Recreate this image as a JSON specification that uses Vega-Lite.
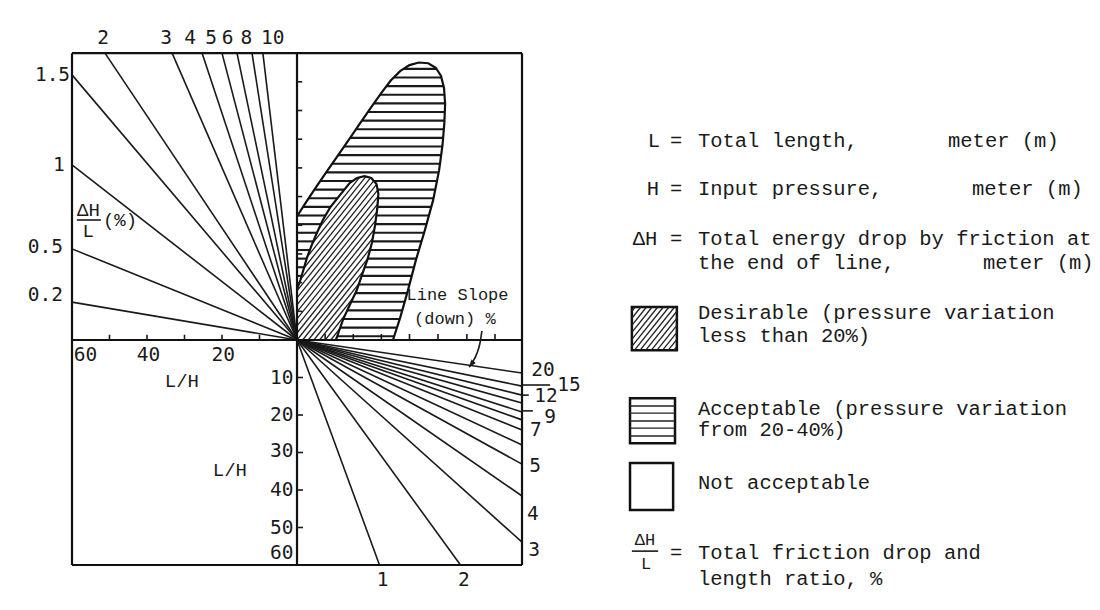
{
  "$schema": "https://vega.github.io/schema/vega-lite/v6.json",
  "width": 1100,
  "height": 610,
  "autosize": {"type": "fit", "contains": "padding"},
  "padding": 0,
  "background": "white",
  "config": {"view": {"stroke": null}},
  "encoding": {
    "x": {"field": "x", "type": "quantitative", "scale": {"domain": [-79.2, 214.13], "nice": false, "zero": false}, "axis": null},
    "y": {"field": "y", "type": "quantitative", "scale": {"domain": [-72, 90.67], "nice": false, "zero": false}, "axis": null}
  },
  "datasets": {
    "hatchD": [
      {"x": 0, "y": 24.375, "x2": 16.1, "y2": 44.5},
      {"x": 0, "y": 22.5, "x2": 17.6, "y2": 44.5},
      {"x": 0, "y": 20.625, "x2": 19.1, "y2": 44.5},
      {"x": 0, "y": 18.75, "x2": 20.6, "y2": 44.5},
      {"x": 0, "y": 16.875, "x2": 22.1, "y2": 44.5},
      {"x": 0, "y": 15.0, "x2": 22.5, "y2": 43.125},
      {"x": 0, "y": 13.125, "x2": 22.5, "y2": 41.25},
      {"x": 0, "y": 11.25, "x2": 22.5, "y2": 39.375},
      {"x": 0, "y": 9.375, "x2": 22.5, "y2": 37.5},
      {"x": 0, "y": 7.5, "x2": 22.5, "y2": 35.625},
      {"x": 0, "y": 5.625, "x2": 22.5, "y2": 33.75},
      {"x": 0, "y": 3.75, "x2": 22.5, "y2": 31.875},
      {"x": 0, "y": 1.875, "x2": 22.5, "y2": 30.0},
      {"x": 0, "y": 0, "x2": 22.5, "y2": 28.125},
      {"x": 1.5, "y": 0, "x2": 22.5, "y2": 26.25},
      {"x": 3.0, "y": 0, "x2": 22.5, "y2": 24.375},
      {"x": 4.5, "y": 0, "x2": 22.5, "y2": 22.5},
      {"x": 6.0, "y": 0, "x2": 22.5, "y2": 20.625},
      {"x": 7.5, "y": 0, "x2": 22.5, "y2": 18.75},
      {"x": 9.0, "y": 0, "x2": 22.5, "y2": 16.875},
      {"x": 10.5, "y": 0, "x2": 22.5, "y2": 15.0}
    ],
    "maskSmall": [
      {"i": 0, "x": 0, "y": 13.5}, {"i": 1, "x": 0.9, "y": 16.0}, {"i": 2, "x": 1.8, "y": 19.0},
      {"i": 3, "x": 2.7, "y": 22.1}, {"i": 4, "x": 4.0, "y": 25.5}, {"i": 5, "x": 5.4, "y": 28.8},
      {"i": 6, "x": 6.9, "y": 32.0}, {"i": 7, "x": 8.8, "y": 35.3}, {"i": 8, "x": 11.5, "y": 38.7},
      {"i": 9, "x": 14.1, "y": 41.9}, {"i": 10, "x": 16.0, "y": 43.2}, {"i": 11, "x": 18.0, "y": 43.7},
      {"i": 12, "x": 19.8, "y": 43.2}, {"i": 13, "x": 21.2, "y": 41.6}, {"i": 14, "x": 21.7, "y": 39.0},
      {"i": 15, "x": 21.4, "y": 35.0}, {"i": 16, "x": 20.8, "y": 30.5}, {"i": 17, "x": 20.0, "y": 26.0},
      {"i": 18, "x": 18.8, "y": 21.5}, {"i": 19, "x": 17.3, "y": 17.3}, {"i": 20, "x": 15.9, "y": 13.2},
      {"i": 21, "x": 14.0, "y": 9.2}, {"i": 22, "x": 12.3, "y": 5.5}, {"i": 23, "x": 11.2, "y": 2.4},
      {"i": 24, "x": 10.6, "y": 0.6}, {"i": 25, "x": 10.3, "y": 0},
      {"i": 26, "x": 23, "y": 0}, {"i": 27, "x": 23, "y": 45}, {"i": 28, "x": 0, "y": 45}
    ],
    "hatchH": [
      {"x": 10.65, "x2": 40.5, "y": 1.0}, {"x": 11.52, "x2": 40.5, "y": 3.3}, {"x": 12.35, "x2": 40.5, "y": 5.6},
      {"x": 13.4, "x2": 40.5, "y": 7.9}, {"x": 14.5, "x2": 40.5, "y": 10.2}, {"x": 15.6, "x2": 40.5, "y": 12.5},
      {"x": 0, "x2": 0.47, "y": 14.8}, {"x": 16.45, "x2": 40.5, "y": 14.8},
      {"x": 0, "x2": 1.23, "y": 17.1}, {"x": 17.23, "x2": 40.5, "y": 17.1},
      {"x": 0, "x2": 1.92, "y": 19.4}, {"x": 18.05, "x2": 40.5, "y": 19.4},
      {"x": 0, "x2": 2.58, "y": 21.7}, {"x": 18.85, "x2": 40.5, "y": 21.7},
      {"x": 0, "x2": 3.43, "y": 24.0}, {"x": 19.47, "x2": 40.5, "y": 24.0},
      {"x": 0, "x2": 4.34, "y": 26.3}, {"x": 20.05, "x2": 40.5, "y": 26.3},
      {"x": 0, "x2": 5.3, "y": 28.6}, {"x": 20.46, "x2": 40.5, "y": 28.6},
      {"x": 0, "x2": 6.38, "y": 30.9}, {"x": 20.85, "x2": 40.5, "y": 30.9},
      {"x": 0, "x2": 7.59, "y": 33.2}, {"x": 21.16, "x2": 40.5, "y": 33.2},
      {"x": 0, "x2": 8.96, "y": 35.5}, {"x": 21.44, "x2": 40.5, "y": 35.5},
      {"x": 0, "x2": 10.79, "y": 37.8}, {"x": 21.6, "x2": 40.5, "y": 37.8},
      {"x": 0, "x2": 12.64, "y": 40.1}, {"x": 21.5, "x2": 40.5, "y": 40.1},
      {"x": 0, "x2": 14.83, "y": 42.4}, {"x": 20.5, "x2": 40.5, "y": 42.4},
      {"x": 0, "x2": 40.5, "y": 44.7}, {"x": 0, "x2": 40.5, "y": 47.0}, {"x": 0, "x2": 40.5, "y": 49.3},
      {"x": 0, "x2": 40.5, "y": 51.6}, {"x": 0, "x2": 40.5, "y": 53.9}, {"x": 0, "x2": 40.5, "y": 56.2},
      {"x": 0, "x2": 40.5, "y": 58.5}, {"x": 0, "x2": 40.5, "y": 60.8}, {"x": 0, "x2": 40.5, "y": 63.1},
      {"x": 0, "x2": 40.5, "y": 65.4}, {"x": 0, "x2": 40.5, "y": 67.7}, {"x": 0, "x2": 40.5, "y": 70.0},
      {"x": 0, "x2": 40.5, "y": 72.3}
    ],
    "maskBig": [
      {"i": 0, "x": 0, "y": 33.0}, {"i": 1, "x": 2.0, "y": 36.1}, {"i": 2, "x": 4.5, "y": 39.9},
      {"i": 3, "x": 7.5, "y": 44.3}, {"i": 4, "x": 10.7, "y": 48.9}, {"i": 5, "x": 13.8, "y": 53.4},
      {"i": 6, "x": 16.8, "y": 57.8}, {"i": 7, "x": 19.8, "y": 62.1}, {"i": 8, "x": 22.5, "y": 65.9},
      {"i": 9, "x": 25.0, "y": 69.2}, {"i": 10, "x": 27.5, "y": 71.7}, {"i": 11, "x": 30.0, "y": 73.3},
      {"i": 12, "x": 32.5, "y": 74.0}, {"i": 13, "x": 35.0, "y": 73.8}, {"i": 14, "x": 37.0, "y": 72.6},
      {"i": 15, "x": 38.4, "y": 70.4}, {"i": 16, "x": 39.2, "y": 67.2}, {"i": 17, "x": 39.5, "y": 63.0},
      {"i": 18, "x": 39.3, "y": 58.0}, {"i": 19, "x": 38.8, "y": 52.0}, {"i": 20, "x": 37.9, "y": 45.3},
      {"i": 21, "x": 36.3, "y": 37.3}, {"i": 22, "x": 34.1, "y": 29.3}, {"i": 23, "x": 31.7, "y": 21.3},
      {"i": 24, "x": 29.6, "y": 13.3}, {"i": 25, "x": 27.5, "y": 5.9}, {"i": 26, "x": 26.3, "y": 2.2},
      {"i": 27, "x": 25.6, "y": 0},
      {"i": 28, "x": 41, "y": 0}, {"i": 29, "x": 41, "y": 75.5}, {"i": 30, "x": 0, "y": 75.5}
    ],
    "frame": [
      {"x": -60, "y": 76.5, "x2": 60, "y2": 76.5},
      {"x": -60, "y": 76.5, "x2": -60, "y2": -60},
      {"x": 60, "y": 76.5, "x2": 60, "y2": -60},
      {"x": -60, "y": -60, "x2": 60, "y2": -60},
      {"x": 0, "y": 76.5, "x2": 0, "y2": -60},
      {"x": -60, "y": 0, "x2": 60, "y2": 0}
    ],
    "ticks": [
      {"x": -50, "y": 0, "x2": -50, "y2": 1.4}, {"x": -40, "y": 0, "x2": -40, "y2": 1.4},
      {"x": -30, "y": 0, "x2": -30, "y2": 1.4}, {"x": -20, "y": 0, "x2": -20, "y2": 1.4},
      {"x": -10, "y": 0, "x2": -10, "y2": 1.4},
      {"x": 0, "y": 7.65, "x2": 1.4, "y2": 7.65}, {"x": 0, "y": 15.3, "x2": 1.4, "y2": 15.3},
      {"x": 0, "y": 22.95, "x2": 1.4, "y2": 22.95}, {"x": 0, "y": 30.6, "x2": 1.4, "y2": 30.6},
      {"x": 0, "y": 38.25, "x2": 1.4, "y2": 38.25}, {"x": 0, "y": 45.9, "x2": 1.4, "y2": 45.9},
      {"x": 0, "y": 53.55, "x2": 1.4, "y2": 53.55}, {"x": 0, "y": 61.2, "x2": 1.4, "y2": 61.2},
      {"x": 0, "y": 68.85, "x2": 1.4, "y2": 68.85},
      {"x": 7.5, "y": 0, "x2": 7.5, "y2": 1.6}, {"x": 15.0, "y": 0, "x2": 15.0, "y2": 1.6},
      {"x": 22.5, "y": 0, "x2": 22.5, "y2": 1.6}, {"x": 30.0, "y": 0, "x2": 30.0, "y2": 1.6},
      {"x": 37.6, "y": 0, "x2": 37.6, "y2": 1.6}, {"x": 45.3, "y": 0, "x2": 45.3, "y2": 1.6},
      {"x": 52.8, "y": 0, "x2": 52.8, "y2": 1.6},
      {"x": 0, "y": -10, "x2": 1.6, "y2": -10}, {"x": 0, "y": -20, "x2": 1.6, "y2": -20},
      {"x": 0, "y": -30, "x2": 1.6, "y2": -30}, {"x": 0, "y": -40, "x2": 1.6, "y2": -40},
      {"x": 0, "y": -50, "x2": 1.6, "y2": -50},
      {"x": 60, "y": -12.0, "x2": 67.5, "y2": -12.0},
      {"x": 60, "y": -14.7, "x2": 61.8, "y2": -14.7},
      {"x": 60, "y": -18.9, "x2": 62.9, "y2": -18.9},
      {"x": -58.7, "y": 32.0, "x2": -52.3, "y2": 32.0},
      {"x": 89.3, "y": -56.3, "x2": 96.3, "y2": -56.3}
    ],
    "fans": [
      {"v": 0.2, "x": 0, "y": 0, "x2": -60, "y2": 10.1},
      {"v": 0.5, "x": 0, "y": 0, "x2": -60, "y2": 24.3},
      {"v": 1, "x": 0, "y": 0, "x2": -60, "y2": 46.7},
      {"v": 1.5, "x": 0, "y": 0, "x2": -60, "y2": 70.7},
      {"v": 2, "x": 0, "y": 0, "x2": -51.2, "y2": 76.5},
      {"v": 3, "x": 0, "y": 0, "x2": -33.3, "y2": 76.5},
      {"v": 4, "x": 0, "y": 0, "x2": -25.3, "y2": 76.5},
      {"v": 5, "x": 0, "y": 0, "x2": -20.0, "y2": 76.5},
      {"v": 6, "x": 0, "y": 0, "x2": -16.0, "y2": 76.5},
      {"v": 8, "x": 0, "y": 0, "x2": -12.0, "y2": 76.5},
      {"v": 10, "x": 0, "y": 0, "x2": -9.1, "y2": 76.5},
      {"v": 20, "x": 0, "y": 0, "x2": 60, "y2": -8.8},
      {"v": 15, "x": 0, "y": 0, "x2": 60, "y2": -12.3},
      {"v": 12, "x": 0, "y": 0, "x2": 60, "y2": -14.7},
      {"v": 10, "x": 0, "y": 0, "x2": 60, "y2": -16.8},
      {"v": 9, "x": 0, "y": 0, "x2": 60, "y2": -19.2},
      {"v": 8, "x": 0, "y": 0, "x2": 60, "y2": -21.3},
      {"v": 7, "x": 0, "y": 0, "x2": 60, "y2": -24.0},
      {"v": 6, "x": 0, "y": 0, "x2": 60, "y2": -28.0},
      {"v": 5, "x": 0, "y": 0, "x2": 60, "y2": -33.1},
      {"v": 4, "x": 0, "y": 0, "x2": 60, "y2": -41.6},
      {"v": 3, "x": 0, "y": 0, "x2": 60, "y2": -53.9},
      {"v": 2, "x": 0, "y": 0, "x2": 43.6, "y2": -60},
      {"v": 1, "x": 0, "y": 0, "x2": 22.0, "y2": -60}
    ],
    "outlineBig": [
      {"i": 0, "x": 0, "y": 33.0}, {"i": 1, "x": 2.0, "y": 36.1}, {"i": 2, "x": 4.5, "y": 39.9},
      {"i": 3, "x": 7.5, "y": 44.3}, {"i": 4, "x": 10.7, "y": 48.9}, {"i": 5, "x": 13.8, "y": 53.4},
      {"i": 6, "x": 16.8, "y": 57.8}, {"i": 7, "x": 19.8, "y": 62.1}, {"i": 8, "x": 22.5, "y": 65.9},
      {"i": 9, "x": 25.0, "y": 69.2}, {"i": 10, "x": 27.5, "y": 71.7}, {"i": 11, "x": 30.0, "y": 73.3},
      {"i": 12, "x": 32.5, "y": 74.0}, {"i": 13, "x": 35.0, "y": 73.8}, {"i": 14, "x": 37.0, "y": 72.6},
      {"i": 15, "x": 38.4, "y": 70.4}, {"i": 16, "x": 39.2, "y": 67.2}, {"i": 17, "x": 39.5, "y": 63.0},
      {"i": 18, "x": 39.3, "y": 58.0}, {"i": 19, "x": 38.8, "y": 52.0}, {"i": 20, "x": 37.9, "y": 45.3},
      {"i": 21, "x": 36.3, "y": 37.3}, {"i": 22, "x": 34.1, "y": 29.3}, {"i": 23, "x": 31.7, "y": 21.3},
      {"i": 24, "x": 29.6, "y": 13.3}, {"i": 25, "x": 27.5, "y": 5.9}, {"i": 26, "x": 26.3, "y": 2.2},
      {"i": 27, "x": 25.6, "y": 0}
    ],
    "outlineSmall": [
      {"i": 0, "x": 0, "y": 13.5}, {"i": 1, "x": 0.9, "y": 16.0}, {"i": 2, "x": 1.8, "y": 19.0},
      {"i": 3, "x": 2.7, "y": 22.1}, {"i": 4, "x": 4.0, "y": 25.5}, {"i": 5, "x": 5.4, "y": 28.8},
      {"i": 6, "x": 6.9, "y": 32.0}, {"i": 7, "x": 8.8, "y": 35.3}, {"i": 8, "x": 11.5, "y": 38.7},
      {"i": 9, "x": 14.1, "y": 41.9}, {"i": 10, "x": 16.0, "y": 43.2}, {"i": 11, "x": 18.0, "y": 43.7},
      {"i": 12, "x": 19.8, "y": 43.2}, {"i": 13, "x": 21.2, "y": 41.6}, {"i": 14, "x": 21.7, "y": 39.0},
      {"i": 15, "x": 21.4, "y": 35.0}, {"i": 16, "x": 20.8, "y": 30.5}, {"i": 17, "x": 20.0, "y": 26.0},
      {"i": 18, "x": 18.8, "y": 21.5}, {"i": 19, "x": 17.3, "y": 17.3}, {"i": 20, "x": 15.9, "y": 13.2},
      {"i": 21, "x": 14.0, "y": 9.2}, {"i": 22, "x": 12.3, "y": 5.5}, {"i": 23, "x": 11.2, "y": 2.4},
      {"i": 24, "x": 10.6, "y": 0.6}, {"i": 25, "x": 10.3, "y": 0}
    ],
    "leader": [
      {"i": 0, "x": 49.3, "y": 2.4}, {"i": 1, "x": 48.8, "y": -0.8}, {"i": 2, "x": 48.0, "y": -3.5},
      {"i": 3, "x": 46.7, "y": -6.1}, {"i": 4, "x": 45.9, "y": -7.2}
    ],
    "arrowhead": [
      {"i": 0, "x": 45.87, "y": -7.2}, {"i": 1, "x": 47.52, "y": -6.11}, {"i": 2, "x": 46.45, "y": -5.31}
    ],
    "swatches": [
      {"k": "Desirable", "x": 89.3, "x2": 101.3, "y": -2.7, "y2": 8.8},
      {"k": "Acceptable", "x": 88.8, "x2": 100.8, "y": -27.5, "y2": -15.5},
      {"k": "Not acceptable", "x": 88.8, "x2": 100.3, "y": -45.3, "y2": -32.8}
    ],
    "swatchLines": [
      {"x": 89.3, "y": 7.675, "x2": 90.2, "y2": 8.8},
      {"x": 89.3, "y": 5.8, "x2": 91.7, "y2": 8.8},
      {"x": 89.3, "y": 3.925, "x2": 93.2, "y2": 8.8},
      {"x": 89.3, "y": 2.05, "x2": 94.7, "y2": 8.8},
      {"x": 89.3, "y": 0.175, "x2": 96.2, "y2": 8.8},
      {"x": 89.3, "y": -1.7, "x2": 97.7, "y2": 8.8},
      {"x": 90.0, "y": -2.7, "x2": 99.2, "y2": 8.8},
      {"x": 91.5, "y": -2.7, "x2": 100.7, "y2": 8.8},
      {"x": 93.0, "y": -2.7, "x2": 101.3, "y2": 7.675},
      {"x": 94.5, "y": -2.7, "x2": 101.3, "y2": 5.8},
      {"x": 96.0, "y": -2.7, "x2": 101.3, "y2": 3.925},
      {"x": 97.5, "y": -2.7, "x2": 101.3, "y2": 2.05},
      {"x": 99.0, "y": -2.7, "x2": 101.3, "y2": 0.175},
      {"x": 100.5, "y": -2.7, "x2": 101.3, "y2": -1.7},
      {"x": 88.8, "y": -17.6, "x2": 100.8, "y2": -17.6},
      {"x": 88.8, "y": -19.5, "x2": 100.8, "y2": -19.5},
      {"x": 88.8, "y": -21.6, "x2": 100.8, "y2": -21.6},
      {"x": 88.8, "y": -23.5, "x2": 100.8, "y2": -23.5},
      {"x": 88.8, "y": -25.6, "x2": 100.8, "y2": -25.6}
    ],
    "numLabels": [
      {"t": "2", "x": -51.7, "y": 80.5}, {"t": "3", "x": -34.9, "y": 80.5}, {"t": "4", "x": -28.5, "y": 80.5},
      {"t": "5", "x": -22.9, "y": 80.5}, {"t": "6", "x": -18.5, "y": 80.5}, {"t": "8", "x": -13.5, "y": 80.5},
      {"t": "10", "x": -6.5, "y": 80.5},
      {"t": "1.5", "x": -65.2, "y": 70.8}, {"t": "1", "x": -63.5, "y": 46.7},
      {"t": "0.5", "x": -67.1, "y": 24.7}, {"t": "0.2", "x": -67.1, "y": 11.9},
      {"t": "60", "x": -56.4, "y": -4.1}, {"t": "40", "x": -39.6, "y": -4.1}, {"t": "20", "x": -19.7, "y": -4.1},
      {"t": "10", "x": -4.1, "y": -10.0}, {"t": "20", "x": -4.1, "y": -19.9}, {"t": "30", "x": -4.1, "y": -29.5},
      {"t": "40", "x": -4.1, "y": -40.1}, {"t": "50", "x": -4.1, "y": -50.0}, {"t": "60", "x": -4.1, "y": -56.7},
      {"t": "20", "x": 65.6, "y": -8.1}, {"t": "15", "x": 72.5, "y": -11.9}, {"t": "12", "x": 66.4, "y": -14.8},
      {"t": "9", "x": 67.5, "y": -20.4}, {"t": "7", "x": 63.7, "y": -24.0}, {"t": "5", "x": 63.5, "y": -33.7},
      {"t": "4", "x": 62.9, "y": -46.3}, {"t": "3", "x": 63.2, "y": -56.0},
      {"t": "1", "x": 22.8, "y": -63.9}, {"t": "2", "x": 44.5, "y": -64.1}
    ],
    "serifLabels": [
      {"t": "L/H", "x": -30.7, "y": -10.9}, {"t": "L/H", "x": -17.9, "y": -34.7},
      {"t": "ΔH", "x": -55.6, "y": 34.7}, {"t": "L", "x": -55.7, "y": 29.1}, {"t": "(%)", "x": -47.2, "y": 32.1}
    ],
    "smallSerif": [
      {"t": "Line Slope", "x": 42.8, "y": 12.1}, {"t": "(down) %", "x": 42.1, "y": 5.5},
      {"t": "ΔH", "x": 92.8, "y": -53.3}, {"t": "L", "x": 93.1, "y": -59.6}
    ],
    "legendCenter": [
      {"t": "L", "x": 95.2, "y": 53.1}, {"t": "H", "x": 94.9, "y": 40.2}, {"t": "ΔH", "x": 92.8, "y": 26.9},
      {"t": "=", "x": 101.1, "y": 53.1}, {"t": "=", "x": 101.1, "y": 40.2}, {"t": "=", "x": 101.1, "y": 26.9},
      {"t": "=", "x": 101.1, "y": -56.8}
    ],
    "legendLeft": [
      {"t": "Total length,", "x": 106.9, "y": 53.1},
      {"t": "meter (m)", "x": 173.6, "y": 53.1},
      {"t": "Input pressure,", "x": 106.9, "y": 40.2},
      {"t": "meter (m)", "x": 180.0, "y": 40.2},
      {"t": "Total energy drop by friction at", "x": 106.9, "y": 26.9},
      {"t": "the end of line,", "x": 106.9, "y": 20.6},
      {"t": "meter (m)", "x": 182.9, "y": 20.6},
      {"t": "Desirable (pressure variation", "x": 106.9, "y": 7.1},
      {"t": "less than 20%)", "x": 106.9, "y": 1.1},
      {"t": "Acceptable (pressure variation", "x": 106.9, "y": -18.3},
      {"t": "from 20-40%)", "x": 106.9, "y": -24.1},
      {"t": "Not acceptable", "x": 106.9, "y": -38.1},
      {"t": "Total friction drop and", "x": 106.9, "y": -56.9},
      {"t": "length ratio, %", "x": 106.9, "y": -63.6}
    ]
  },
  "layer": [
    {"data": {"name": "hatchD"}, "mark": {"type": "rule", "stroke": "#222", "strokeWidth": 1.3}, "encoding": {"x2": {"field": "x2"}, "y2": {"field": "y2"}}},
    {"data": {"name": "maskSmall"}, "mark": {"type": "line", "fill": "white", "stroke": "white", "strokeWidth": 0.5, "interpolate": "linear"}, "encoding": {"order": {"field": "i", "type": "quantitative"}}},
    {"data": {"name": "hatchH"}, "mark": {"type": "rule", "stroke": "#1a1a1a", "strokeWidth": 2.1}, "encoding": {"x2": {"field": "x2"}}},
    {"data": {"name": "maskBig"}, "mark": {"type": "line", "fill": "white", "stroke": "white", "strokeWidth": 0.5, "interpolate": "linear"}, "encoding": {"order": {"field": "i", "type": "quantitative"}}},
    {"data": {"name": "outlineBig"}, "mark": {"type": "line", "stroke": "#111", "strokeWidth": 2.2, "interpolate": "linear"}, "encoding": {"order": {"field": "i", "type": "quantitative"}}},
    {"data": {"name": "outlineSmall"}, "mark": {"type": "line", "stroke": "#111", "strokeWidth": 2.2, "interpolate": "linear"}, "encoding": {"order": {"field": "i", "type": "quantitative"}}},
    {"data": {"name": "fans"}, "mark": {"type": "rule", "stroke": "#1a1a1a", "strokeWidth": 1.6}, "encoding": {"x2": {"field": "x2"}, "y2": {"field": "y2"}}},
    {"data": {"name": "frame"}, "mark": {"type": "rule", "stroke": "#111", "strokeWidth": 2.2}, "encoding": {"x2": {"field": "x2"}, "y2": {"field": "y2"}}},
    {"data": {"name": "ticks"}, "mark": {"type": "rule", "stroke": "#1a1a1a", "strokeWidth": 1.6}, "encoding": {"x2": {"field": "x2"}, "y2": {"field": "y2"}}},
    {"data": {"name": "leader"}, "mark": {"type": "line", "stroke": "#1a1a1a", "strokeWidth": 1.6, "interpolate": "monotone"}, "encoding": {"order": {"field": "i", "type": "quantitative"}}},
    {"data": {"name": "arrowhead"}, "mark": {"type": "line", "fill": "#1a1a1a", "stroke": "#1a1a1a", "strokeWidth": 1}, "encoding": {"order": {"field": "i", "type": "quantitative"}}},
    {"data": {"name": "swatches"}, "mark": {"type": "rect", "fill": "white", "stroke": "#111", "strokeWidth": 2.5}, "encoding": {"x2": {"field": "x2"}, "y2": {"field": "y2"}}},
    {"data": {"name": "swatchLines"}, "mark": {"type": "rule", "stroke": "#222", "strokeWidth": 1.3}, "encoding": {"x2": {"field": "x2"}, "y2": {"field": "y2"}}},
    {"data": {"name": "numLabels"}, "mark": {"type": "text", "font": "DejaVu Sans Mono", "fontSize": 19.5, "align": "center", "baseline": "middle", "fill": "#1a1a1a"}, "encoding": {"text": {"field": "t", "type": "nominal"}}},
    {"data": {"name": "serifLabels"}, "mark": {"type": "text", "font": "Liberation Mono", "fontSize": 19, "align": "center", "baseline": "middle", "fill": "#1a1a1a"}, "encoding": {"text": {"field": "t", "type": "nominal"}}},
    {"data": {"name": "smallSerif"}, "mark": {"type": "text", "font": "Liberation Mono", "fontSize": 17, "align": "center", "baseline": "middle", "fill": "#1a1a1a"}, "encoding": {"text": {"field": "t", "type": "nominal"}}},
    {"data": {"name": "legendCenter"}, "mark": {"type": "text", "font": "Liberation Mono", "fontSize": 20.5, "align": "center", "baseline": "middle", "fill": "#1a1a1a"}, "encoding": {"text": {"field": "t", "type": "nominal"}}},
    {"data": {"name": "legendLeft"}, "mark": {"type": "text", "font": "Liberation Mono", "fontSize": 20.5, "align": "left", "baseline": "middle", "fill": "#1a1a1a"}, "encoding": {"text": {"field": "t", "type": "nominal"}}}
  ]
}
